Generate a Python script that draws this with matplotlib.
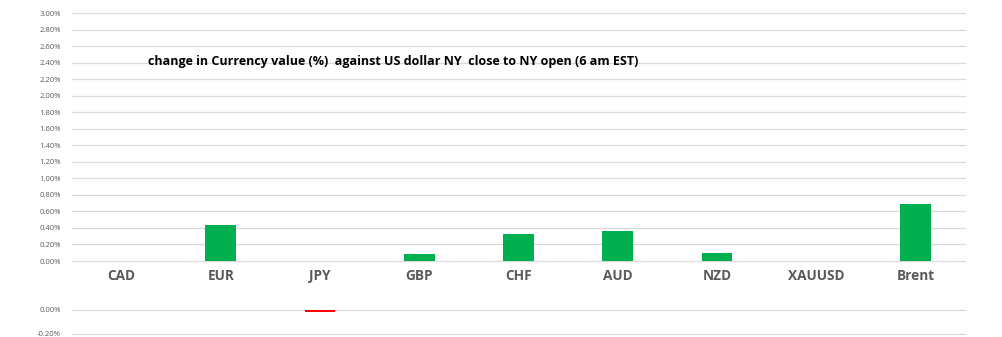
import matplotlib.pyplot as plt
import numpy as np
from matplotlib.ticker import FuncFormatter

categories = ['CAD', 'EUR', 'JPY', 'GBP', 'CHF', 'AUD', 'NZD', 'XAUUSD', 'Brent']
changes = [0.0, 0.44, -0.02, 0.09, 0.33, 0.36, 0.10, 0.0, 0.69]  # percent
title = 'change in Currency value (%)  against US dollar NY  close to NY open (6 am EST)'

green = '#00B050'
red = '#FF0000'
grid_col = '#D9D9D9'
tick_col = '#595959'

plt.rcParams['font.family'] = ['Open Sans', 'DejaVu Sans']

fig = plt.figure(figsize=(10.02, 3.37), dpi=100)
W, H = 1002, 337

def box(x0, y0, x1, y1):
    return [x0 / W, 1 - y1 / H, (x1 - x0) / W, (y1 - y0) / H]

x = np.arange(len(categories))
vals = np.array(changes)
pos = np.where(vals > 0, vals, 0)
neg = np.where(vals < 0, vals, 0)

top = fig.add_axes(box(72, 13, 965, 261))
bot = fig.add_axes(box(72, 309.5, 965, 333.5))

fmt = FuncFormatter(lambda v, _: f'{v:.2f}%')

for ax in (top, bot):
    ax.set_xlim(-0.5, len(categories) - 0.5)
    for s in ax.spines.values():
        s.set_visible(False)
    ax.yaxis.set_major_formatter(fmt)
    ax.tick_params(axis='y', length=0, labelsize=5.5, labelcolor=tick_col, pad=8)
    ax.tick_params(axis='x', length=0)
    ax.set_axisbelow(True)

top.bar(x, pos, width=0.31, color=green)
top.set_ylim(0, 3.0)
top.set_yticks(np.arange(0, 3.01, 0.2))
for yv in np.arange(0, 3.01, 0.2):
    top.axhline(yv, color=grid_col, lw=0.9, zorder=0, clip_on=False)
top.set_xticks(x)
top.set_xticklabels(categories, fontsize=9.8, fontweight='bold', color=tick_col)
top.tick_params(axis='x', pad=6)
top.text(0.085, 0.805, title, transform=top.transAxes, fontsize=9.0,
         fontweight='bold', color='black', va='center', ha='left')

bot.bar(x, neg, width=0.31, color=red, clip_on=False)
bot.set_ylim(-0.2, 0)
bot.set_yticks([0, -0.2])
for yv in (0, -0.2):
    bot.axhline(yv, color=grid_col, lw=0.9, zorder=0, clip_on=False)
bot.set_xticks([])

fig.savefig('out.png', dpi=100)
